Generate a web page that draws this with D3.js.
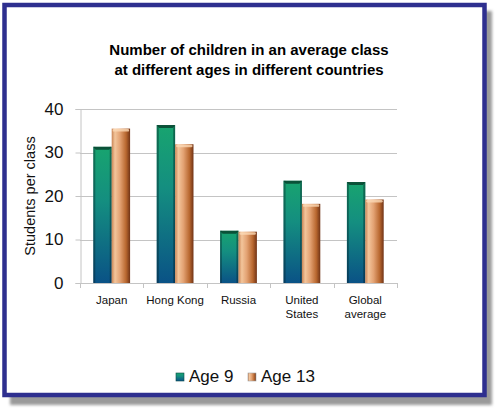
<!DOCTYPE html>
<html>
<head>
<meta charset="utf-8">
<script src="https://cdn.jsdelivr.net/npm/d3@7"></script>
<style>
  body { margin: 0; background: #fff; }
  svg { display: block; font-family: Arial, "Liberation Sans", sans-serif; }
</style>
</head>
<body>
<div id="chart"></div>
<script>
const width = 500,
    height = 413,
    margin = { top: 109, bottom: 130, left: 80, right: 103 };

// data
const countries = ["Japan", "Hong Kong", "Russia", "United States", "Global average"];
const countryLines = [["Japan"], ["Hong Kong"], ["Russia"], ["United", "States"], ["Global", "average"]];
const series = ["Age 9", "Age 13"];
const age9 = [31.3, 36.3, 12.0, 23.5, 23.2];
const age13 = [35.5, 31.9, 11.8, 18.2, 19.2];
const yTicks = [0, 10, 20, 30, 40];

const rows = countries.map((c, i) => ({ country: c, lines: countryLines[i], values: [age9[i], age13[i]] }));

const svg = d3.select("#chart")
    .append("svg")
    .attr("width", width)
    .attr("height", height);

const defs = svg.append("defs");

// green bar: blue-ish at bottom, green at top
const gGreen = defs.append("linearGradient").attr("id", "gGreen")
    .attr("x1", 0).attr("y1", 0).attr("x2", 0).attr("y2", 1);
gGreen.selectAll("stop")
    .data([["0%", "#18a46f"], ["40%", "#148e80"], ["100%", "#0a5286"]])
    .join("stop").attr("offset", d => d[0]).attr("stop-color", d => d[1]);

// bevel on the green bar sides
const gEdge = defs.append("linearGradient").attr("id", "gEdge")
    .attr("x1", 0).attr("y1", 0).attr("x2", 1).attr("y2", 0);
gEdge.selectAll("stop")
    .data([["0%", 0.45], ["10%", 0.3], ["13%", 0], ["87%", 0], ["90%", 0.3], ["100%", 0.5]])
    .join("stop").attr("offset", d => d[0]).attr("stop-color", "#001a20").attr("stop-opacity", d => d[1]);

// orange bar: cylinder-ish, light left, dark right
const gOrange = defs.append("linearGradient").attr("id", "gOrange")
    .attr("x1", 0).attr("y1", 0).attr("x2", 1).attr("y2", 0);
gOrange.selectAll("stop")
    .data([["0%", "#c98556"], ["18%", "#f3c59b"], ["45%", "#e3a273"], ["78%", "#b8672f"], ["100%", "#703316"]])
    .join("stop").attr("offset", d => d[0]).attr("stop-color", d => d[1]);

const gShadow = defs.append("filter").attr("id", "blur")
    .attr("x", "-5%").attr("y", "-5%").attr("width", "110%").attr("height", "110%");
gShadow.append("feGaussianBlur").attr("stdDeviation", 1.5);

// frame with shadow
svg.append("rect")
    .attr("x", 10).attr("y", 11)
    .attr("width", 482).attr("height", 394)
    .attr("fill", "#9a9a9a")
    .attr("filter", "url(#blur)");
svg.append("rect")
    .attr("x", 4.5).attr("y", 5)
    .attr("width", 480).attr("height", 390)
    .attr("fill", "#fff")
    .attr("stroke", "#2e2f8f")
    .attr("stroke-width", 4.5);

// title
svg.append("text")
    .attr("x", 249).attr("y", 55)
    .attr("text-anchor", "middle")
    .attr("font-weight", "bold")
    .attr("font-size", 15)
    .selectAll("tspan")
    .data(["Number of children in an average class", "at different ages in different countries"])
    .join("tspan")
    .attr("x", 249)
    .attr("dy", (d, i) => i ? 20 : 0)
    .text(d => d);

const x0 = d3.scaleBand()
    .domain(countries)
    .range([margin.left, width - margin.right])
    .paddingInner(0.42)
    .paddingOuter(0.21);

const x1 = d3.scaleBand()
    .domain(series)
    .range([0, x0.bandwidth()]);

const y = d3.scaleLinear()
    .domain([0, 40])
    .range([height - margin.bottom, margin.top]);

// gridlines
svg.append("g")
    .selectAll("line")
    .data(yTicks.slice(1))
    .join("line")
    .attr("x1", margin.left).attr("x2", width - margin.right)
    .attr("y1", d => Math.round(y(d)) + 0.5).attr("y2", d => Math.round(y(d)) + 0.5)
    .attr("stroke", "#c4c4c4");

// y axis
const yAxis = svg.append("g")
    .attr("transform", `translate(${margin.left + 0.5},0)`)
    .call(d3.axisLeft(y).tickValues(yTicks).tickSize(5).tickPadding(12));
yAxis.select(".domain").attr("stroke", "#c4c4c4");
yAxis.selectAll(".tick line").attr("stroke", "#c4c4c4");
yAxis.selectAll(".tick text")
    .attr("font-size", 17)
    .attr("font-family", "Arial, 'Liberation Sans', sans-serif")
    .attr("fill", "#111");

svg.append("text")
    .attr("transform", `translate(35,${(y(0) + y(40)) / 2}) rotate(-90)`)
    .attr("text-anchor", "middle")
    .attr("font-size", 14.5)
    .attr("fill", "#111")
    .text("Students per class");

// bars
const groups = svg.append("g")
    .selectAll("g")
    .data(rows)
    .join("g")
    .attr("transform", d => `translate(${x0(d.country)},0)`);

const bars = groups.selectAll("g")
    .data(d => d.values.map((v, i) => ({ key: series[i], value: v })))
    .join("g");

bars.append("rect")
    .attr("x", d => x1(d.key))
    .attr("y", d => y(d.value))
    .attr("width", x1.bandwidth())
    .attr("height", d => y(0) - y(d.value))
    .attr("fill", d => d.key === "Age 9" ? "url(#gGreen)" : "url(#gOrange)");

// green bevel sides and top
bars.filter(d => d.key === "Age 9").append("rect")
    .attr("x", d => x1(d.key))
    .attr("y", d => y(d.value))
    .attr("width", x1.bandwidth())
    .attr("height", d => y(0) - y(d.value))
    .attr("fill", "url(#gEdge)");
bars.filter(d => d.key === "Age 9").append("path")
    .attr("d", d => {
        const l = x1(d.key), r = l + x1.bandwidth(), t = y(d.value);
        return `M${l},${t}H${r}L${r - 2.5},${t + 3}H${l + 2.5}Z`;
    })
    .attr("fill", "#073d2a")
    .attr("opacity", 0.8);

// orange top cap
bars.filter(d => d.key === "Age 13").append("rect")
    .attr("x", d => x1(d.key) + 1)
    .attr("y", d => y(d.value) + 0.5)
    .attr("width", x1.bandwidth() - 2)
    .attr("height", 2.5)
    .attr("rx", 1.2)
    .attr("fill", "#fbd9b6")
    .attr("opacity", 0.8);

// x axis
svg.append("line")
    .attr("x1", margin.left).attr("x2", width - margin.right)
    .attr("y1", Math.round(y(0)) + 0.5).attr("y2", Math.round(y(0)) + 0.5)
    .attr("stroke", "#c4c4c4");

const step = x0.step();
svg.append("g")
    .selectAll("line")
    .data(d3.range(countries.length + 1))
    .join("line")
    .attr("x1", i => Math.round(margin.left + i * step) + 0.5)
    .attr("x2", i => Math.round(margin.left + i * step) + 0.5)
    .attr("y1", y(0)).attr("y2", y(0) + 5)
    .attr("stroke", "#c4c4c4");

svg.append("g")
    .selectAll("text")
    .data(rows)
    .join("text")
    .attr("x", d => x0(d.country) + x0.bandwidth() / 2)
    .attr("y", y(0) + 21)
    .attr("text-anchor", "middle")
    .attr("font-size", 11.5)
    .attr("fill", "#111")
    .selectAll("tspan")
    .data(d => d.lines)
    .join("tspan")
    .attr("x", function () { return this.parentNode.getAttribute("x"); })
    .attr("dy", (d, i) => i ? 14 : 0)
    .text(d => d);

// legend
const legend = svg.append("g")
    .selectAll("g")
    .data(series)
    .join("g")
    .attr("transform", (d, i) => `translate(${i ? 248 : 176},373)`);
legend.append("rect")
    .attr("width", 8).attr("height", 8)
    .attr("fill", (d, i) => i ? "url(#gOrange)" : "url(#gGreen)")
    .attr("stroke", (d, i) => i ? "#a0a0a0" : "#0b4a4a")
    .attr("stroke-width", 0.6);
legend.append("text")
    .attr("x", 13).attr("y", 9)
    .attr("font-size", 17)
    .attr("fill", "#111")
    .text(d => d);
</script>
</body>
</html>
